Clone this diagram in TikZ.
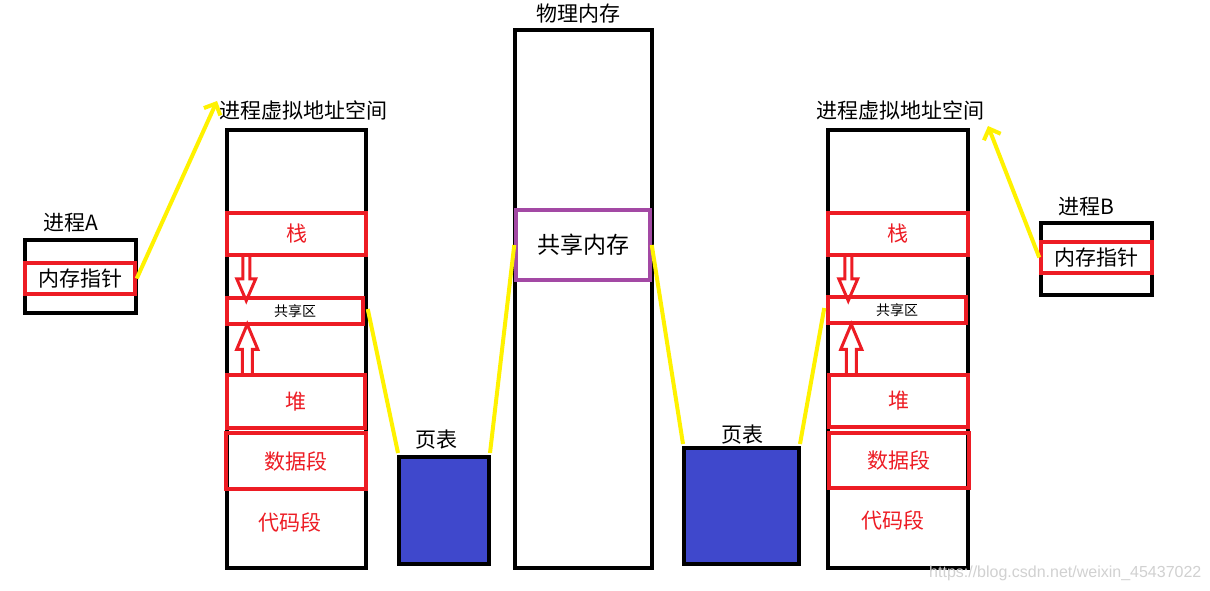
\documentclass[tikz,border=0pt]{standalone}
\usepackage{fontspec}
\newfontfamily\cjk{Noto Sans CJK SC}
\newfontfamily\wmfont{Liberation Sans}
\usetikzlibrary{calc,arrows.meta}
\definecolor{pred}{HTML}{ED1C24}
\definecolor{pyel}{HTML}{FFF200}
\definecolor{ppur}{HTML}{A349A4}
\definecolor{pblue}{HTML}{3F48CC}
\tikzset{
  blackbox/.style={draw=black, line width=4, fill=white, inner sep=0},
  redbox/.style={draw=pred, line width=3.5, inner sep=0, text=pred, font=\cjk\fontsize{21}{21}\selectfont},
  smallred/.style={draw=pred, line width=3.5, inner sep=0, text=black, font=\cjk\fontsize{14}{14}\selectfont},
  ptable/.style={draw=black, line width=4, fill=pblue, inner sep=0},
  lbl/.style={font=\cjk\fontsize{21}{21}\selectfont, text=black, inner sep=0},
  redtxt/.style={font=\cjk\fontsize{21}{21}\selectfont, text=pred, inner sep=0},
  yline/.style={draw=pyel, line width=4},
  yarrow/.style={draw=pyel, line width=4, -{Straight Barb[length=9, width=18]}},
  downarr/.pic={\draw[pred, line width=3] (-3.5,0) -- (-3.5,22) -- (-9.5,22) -- (0,44) -- (9.5,22) -- (3.5,22) -- (3.5,0);},
  uparr/.pic={\draw[pred, line width=3] (-5,0) -- (-5,-24) -- (-10.5,-24) -- (0,-49) -- (10.5,-24) -- (5,-24) -- (5,0);}
}
\begin{document}
\begin{tikzpicture}[x=1pt, y=-1pt]
\useasboundingbox[fill=white] (0,0) rectangle (1210,591);

% titles
\node[lbl] (titleA) at (303,110) {进程虚拟地址空间};
\node[lbl] (titleB) at (900,110) {进程虚拟地址空间};
\node[lbl] (titleP) at (578,14) {物理内存};

% process A
\node[lbl] (labA) at (71,223) {进程A};
\node[blackbox, minimum width=111, minimum height=73] (procA) at (80.5,276.5) {};
\node[redbox, text=black, minimum width=110, minimum height=31] (ptrA) at (80,278.5) {内存指针};

% process B
\node[lbl] (labB) at (1086,207) {进程B};
\node[blackbox, minimum width=111, minimum height=72] (procB) at (1096.5,259) {};
\node[redbox, text=black, minimum width=111, minimum height=31] (ptrB) at (1096.5,257.5) {内存指针};

% left virtual address space
\node[blackbox, minimum width=139, minimum height=438] (colA) at (296.5,349) {};
\node[redbox, minimum width=139, minimum height=42] (stackA) at (296.5,234) {栈};
\node[smallred, minimum width=136, minimum height=26] (shareA) at (295,311) {共享区};
\node[redbox, minimum width=138, minimum height=53] (heapA) at (296,401.5) {堆};
\node[redbox, minimum width=140, minimum height=56] (dataA) at (296,461) {数据段};
\node[redtxt] (codeA) at (290,522) {代码段};
\pic at ($(stackA.south west)+(21,0)$) {downarr};
\pic at ($(heapA.north west)+(22,0)$) {uparr};

% right virtual address space
\node[blackbox, minimum width=140, minimum height=438] (colB) at (898,349) {};
\node[redbox, minimum width=140, minimum height=42] (stackB) at (898,234) {栈};
\node[smallred, minimum width=138, minimum height=26] (shareB) at (897,310) {共享区};
\node[redbox, minimum width=139, minimum height=52] (heapB) at (898.5,401) {堆};
\node[redbox, minimum width=140, minimum height=55] (dataB) at (899,460.5) {数据段};
\node[redtxt] (codeB) at (893,520) {代码段};
\pic at ($(stackB.south west)+(22,0)$) {downarr};
\pic at ($(heapB.north west)+(24,0)$) {uparr};

% physical memory
\node[blackbox, minimum width=137, minimum height=538] (phys) at (583.5,299) {};
\node[draw=ppur, line width=3.5, fill=white, inner sep=0, minimum width=134, minimum height=70,
      font=\cjk\fontsize{23}{23}\selectfont] (shm) at (583,245) {共享内存};

% page tables
\node[lbl] (ptlabA) at (436,440) {页表};
\node[ptable, minimum width=90, minimum height=107] (ptA) at (444,510.5) {};
\node[lbl] (ptlabB) at (742,435) {页表};
\node[ptable, minimum width=115, minimum height=116] (ptB) at (741.5,506) {};

% yellow connectors
\coordinate (tipA) at (217,101);
\coordinate (tipB) at (988,126);
\draw[yarrow] (ptrA.east) -- (tipA);
\draw[yarrow] (ptrB.west) -- (tipB);
\draw[yline] ($(shareA.east)+(3,-2)$) -- ($(ptA.north west)+(1,-2)$);
\draw[yline] ($(ptA.north east)+(-1,-2)$) -- (shm.west);
\draw[yline] (shm.east) -- ($(ptB.north west)+(1,-2)$);
\draw[yline] ($(ptB.north east)+(-1,-2)$) -- ($(shareB.west)+(-2,-2)$);

% watermark
\node[font=\wmfont\fontsize{16}{16}\selectfont, text=black!18, anchor=west, inner sep=0] (wm) at (929,573) {https://blog.csdn.net/weixin\_45437022};
\end{tikzpicture}
\end{document}
